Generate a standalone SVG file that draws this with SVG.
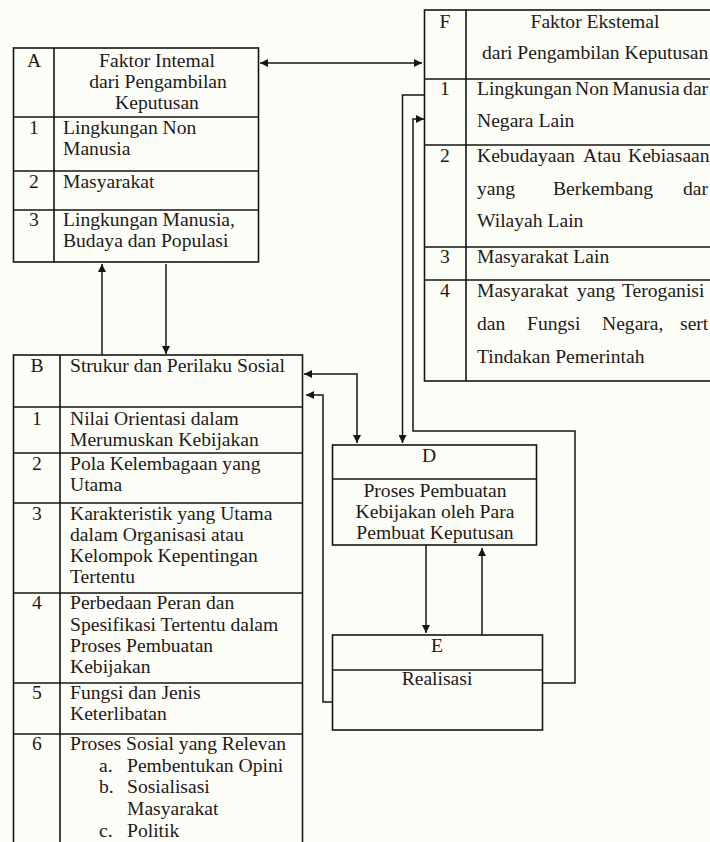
<svg xmlns="http://www.w3.org/2000/svg" width="710" height="842" viewBox="0 0 710 842">
<style>
  .bx{fill:none;stroke:#151515;stroke-width:1.6}
  .ln{stroke:#151515;stroke-width:1.6;fill:none}
  .cn{stroke:#151515;stroke-width:1.5;fill:none}
  text{font-family:"Liberation Serif","Times New Roman",serif;font-size:19.6px;fill:#1e1a18}
  .c{text-anchor:middle}
</style>
<defs>
  <marker id="ah" viewBox="0 0 10 10" refX="10" refY="5" markerWidth="9" markerHeight="8" markerUnits="userSpaceOnUse" orient="auto-start-reverse">
    <path d="M0,0 L10,5 L0,10 z" fill="#151515"/>
  </marker>
</defs>
<rect width="710" height="842" fill="#fdfdf7"/>

<g id="nodeA">
  <rect class="bx" x="13.5" y="48" width="245" height="214"/>
  <path class="ln" d="M54,48 V262 M13.5,117 H258.5 M13.5,171 H258.5 M13.5,210 H258.5"/>
  <text class="c" x="34" y="67">A</text>
  <text class="c" x="157" y="67">Faktor Intemal</text>
  <text class="c" x="158" y="88">dari Pengambilan</text>
  <text class="c" x="157" y="109">Keputusan</text>
  <text class="c" x="34" y="134">1</text>
  <text x="63" y="134">Lingkungan Non</text>
  <text x="63" y="155">Manusia</text>
  <text class="c" x="34" y="188">2</text>
  <text x="63" y="188">Masyarakat</text>
  <text class="c" x="34" y="226">3</text>
  <text x="63" y="226">Lingkungan Manusia,</text>
  <text x="63" y="247">Budaya dan Populasi</text>
</g>

<g id="nodeF">
  <rect class="bx" x="424.5" y="10" width="300" height="371"/>
  <path class="ln" d="M466,10 V381 M424.5,79 H710 M424.5,145 H710 M424.5,247 H710 M424.5,280 H710"/>
  <text class="c" x="445" y="28">F</text>
  <text class="c" x="595" y="28">Faktor Ekstemal</text>
  <text x="482" y="59">dari Pengambilan Keputusan</text>
  <text class="c" x="445" y="95">1</text>
  <text x="477" y="95" word-spacing="-1.5">Lingkungan Non Manusia dar</text>
  <text x="477" y="127">Negara Lain</text>
  <text class="c" x="445" y="162">2</text>
  <text y="162"><tspan x="477">Kebudayaan</tspan><tspan x="583">Atau</tspan><tspan x="628">Kebiasaan</tspan></text>
  <text y="195"><tspan x="477">yang</tspan><tspan x="553">Berkembang</tspan><tspan x="683">dar</tspan></text>
  <text x="477" y="227">Wilayah Lain</text>
  <text class="c" x="445" y="263">3</text>
  <text x="477" y="263">Masyarakat Lain</text>
  <text class="c" x="445" y="297">4</text>
  <text y="297"><tspan x="477">Masyarakat</tspan><tspan x="577">yang</tspan><tspan x="622">Teroganisi</tspan></text>
  <text y="330"><tspan x="477">dan</tspan><tspan x="527">Fungsi</tspan><tspan x="602">Negara,</tspan><tspan x="680">sert</tspan></text>
  <text x="477" y="363">Tindakan Pemerintah</text>
</g>

<g id="nodeB">
  <rect class="bx" x="13.5" y="355" width="289" height="500"/>
  <path class="ln" d="M60,355 V842 M13.5,407 H302.5 M13.5,453 H302.5 M13.5,503 H302.5 M13.5,593 H302.5 M13.5,683 H302.5 M13.5,734 H302.5"/>
  <text class="c" x="37" y="372">B</text>
  <text x="70" y="372">Strukur dan Perilaku Sosial</text>
  <text class="c" x="37" y="425">1</text>
  <text x="70" y="425">Nilai Orientasi dalam</text>
  <text x="70" y="446">Merumuskan Kebijakan</text>
  <text class="c" x="37" y="470">2</text>
  <text x="70" y="470">Pola Kelembagaan yang</text>
  <text x="70" y="491">Utama</text>
  <text class="c" x="37" y="520">3</text>
  <text x="70" y="520">Karakteristik yang Utama</text>
  <text x="70" y="541">dalam Organisasi atau</text>
  <text x="70" y="562">Kelompok Kepentingan</text>
  <text x="70" y="583">Tertentu</text>
  <text class="c" x="37" y="609">4</text>
  <text x="70" y="609">Perbedaan Peran dan</text>
  <text x="70" y="631">Spesifikasi Tertentu dalam</text>
  <text x="70" y="652">Proses Pembuatan</text>
  <text x="70" y="673">Kebijakan</text>
  <text class="c" x="37" y="699">5</text>
  <text x="70" y="699">Fungsi dan Jenis</text>
  <text x="70" y="720">Keterlibatan</text>
  <text class="c" x="37" y="750">6</text>
  <text x="70" y="750">Proses Sosial yang Relevan</text>
  <text x="99" y="772">a.</text><text x="127" y="772">Pembentukan Opini</text>
  <text x="99" y="793">b.</text><text x="127" y="793">Sosialisasi</text>
  <text x="127" y="815">Masyarakat</text>
  <text x="99" y="837">c.</text><text x="127" y="837">Politik</text>
</g>

<g id="nodeD">
  <rect class="bx" x="332.5" y="445" width="204" height="100"/>
  <path class="ln" d="M332.5,479 H536.5"/>
  <text class="c" x="429" y="462">D</text>
  <text class="c" x="435" y="497">Proses Pembuatan</text>
  <text class="c" x="435" y="518">Kebijakan oleh Para</text>
  <text class="c" x="435" y="539">Pembuat Keputusan</text>
</g>

<g id="nodeE">
  <rect class="bx" x="332.5" y="635" width="210" height="95"/>
  <path class="ln" d="M332.5,670 H542.5"/>
  <text class="c" x="437" y="652">E</text>
  <text class="c" x="437" y="685">Realisasi</text>
</g>

<g id="connectors">
  <path class="cn" d="M260,63 H422" marker-start="url(#ah)" marker-end="url(#ah)"/>
  <path class="cn" d="M102,355 V264" marker-end="url(#ah)"/>
  <path class="cn" d="M166,264 V354" marker-end="url(#ah)"/>
  <path class="cn" d="M304,374 H357 V443" marker-start="url(#ah)" marker-end="url(#ah)"/>
  <path class="cn" d="M332,702 H323 V395 H306" marker-end="url(#ah)"/>
  <path class="cn" d="M424,95 H402.5 V443" marker-end="url(#ah)"/>
  <path class="cn" d="M543,683 H575 V431 H413 V119 H424" marker-end="url(#ah)"/>
  <path class="cn" d="M426,545 V633" marker-end="url(#ah)"/>
  <path class="cn" d="M482,635 V548" marker-end="url(#ah)"/>
</g>
</svg>
